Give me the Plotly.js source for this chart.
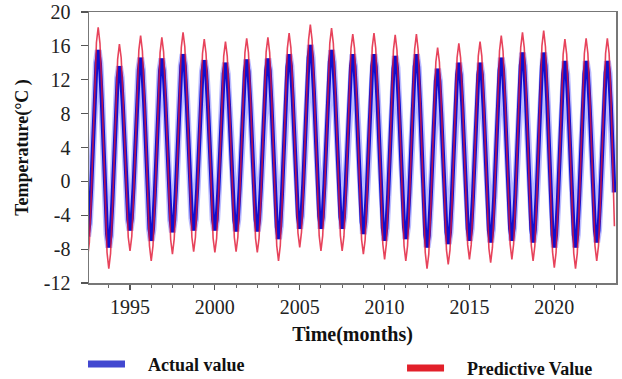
<!DOCTYPE html>
<html>
<head>
<meta charset="utf-8">
<script src="https://cdn.plot.ly/plotly-3.0.1.min.js"></script>
<style>html,body{margin:0;padding:0;background:#fff;}#chart{width:622px;height:379px;}</style>
</head>
<body>
<div id="chart"></div>
<script>
// Monthly values, 25 cycles (Jan..Dec per row)
const actualValues = [
 -6.5,-5.0,-1.0,4.5,10.0,14.0,15.5,13.9,9.7,3.9,-2.0,-6.2,
 -7.8,-6.4,-2.5,2.9,8.3,12.2,13.6,12.3,8.8,3.9,-1.0,-4.5,
 -5.8,-4.4,-0.7,4.4,9.5,13.2,14.6,13.2,9.2,3.8,-1.6,-5.6,
 -7.0,-5.6,-1.6,3.8,9.1,13.1,14.5,13.1,9.4,4.3,-0.9,-4.6,
 -6.0,-4.6,-0.8,4.5,9.8,13.6,15.0,13.6,9.8,4.6,-0.6,-4.4,
 -5.8,-4.5,-0.8,4.3,9.3,13.0,14.3,13.0,9.3,4.3,-0.8,-4.5,
 -5.8,-4.5,-0.9,4.1,9.1,12.7,14.0,12.7,9.0,4.1,-0.9,-4.6,
 -5.9,-4.5,-0.8,4.3,9.3,13.0,14.4,13.0,9.3,4.3,-0.8,-4.5,
 -5.9,-4.5,-0.8,4.3,9.4,13.1,14.5,13.1,9.2,3.9,-1.5,-5.4,
 -6.8,-5.3,-1.4,4.1,9.6,13.5,15.0,13.6,9.9,4.7,-0.5,-4.2,
 -5.6,-4.1,-0.2,5.3,10.7,14.6,16.1,14.6,10.7,5.3,-0.2,-4.1,
 -5.6,-4.2,-0.3,5.0,10.2,14.1,15.5,14.1,10.2,5.0,-0.3,-4.2,
 -5.6,-4.2,-0.5,4.7,9.9,13.6,15.0,13.6,9.7,4.4,-0.9,-4.8,
 -6.2,-4.8,-0.9,4.4,9.7,13.6,15.0,13.5,9.5,4.0,-1.5,-5.5,
 -7.0,-5.5,-1.6,3.9,9.4,13.3,14.8,13.4,9.4,4.0,-1.4,-5.4,
 -6.8,-5.3,-1.4,4.1,9.6,13.5,15.0,13.5,9.3,3.6,-2.1,-6.3,
 -7.8,-6.4,-2.5,2.8,8.0,11.9,13.3,11.9,8.1,2.9,-2.2,-6.0,
 -7.4,-6.0,-2.1,3.3,8.7,12.6,14.0,12.6,8.8,3.5,-1.8,-5.6,
 -7.0,-5.6,-1.8,3.5,8.8,12.6,14.0,12.6,8.7,3.4,-1.9,-5.8,
 -7.2,-5.7,-1.8,3.7,9.2,13.1,14.6,13.2,9.2,3.8,-1.6,-5.6,
 -7.0,-5.5,-1.5,4.1,9.7,13.7,15.2,13.7,9.6,4.0,-1.6,-5.7,
 -7.2,-5.7,-1.6,4.0,9.6,13.7,15.2,13.7,9.5,3.7,-2.1,-6.3,
 -7.8,-6.3,-2.3,3.2,8.7,12.7,14.2,12.7,8.7,3.2,-2.3,-6.3,
 -7.8,-6.3,-2.3,3.2,8.7,12.7,14.2,12.8,8.9,3.5,-1.9,-5.8,
 -7.2,-5.8,-1.9,3.5,8.9,12.8,14.2,12.8,8.9,3.6,-1.3
];
const predictedValues = [
 -9.0,-7.2,-2.2,4.6,11.4,16.4,18.2,16.3,11.1,4.0,-3.2,-8.4,
 -10.3,-8.5,-3.7,3.0,9.6,14.4,16.2,14.6,10.1,4.0,-2.1,-6.6,
 -8.2,-6.5,-1.9,4.5,10.9,15.5,17.2,15.4,10.6,3.9,-2.8,-7.6,
 -9.4,-7.6,-2.8,3.8,10.4,15.2,17.0,15.3,10.6,4.2,-2.2,-6.9,
 -8.6,-6.8,-2.1,4.5,11.1,15.8,17.6,15.9,11.1,4.7,-1.8,-6.6,
 -8.3,-6.6,-2.0,4.3,10.5,15.1,16.8,15.1,10.5,4.2,-2.1,-6.7,
 -8.4,-6.7,-2.2,4.1,10.3,14.8,16.5,14.8,10.3,4.1,-2.1,-6.6,
 -8.3,-6.6,-2.0,4.3,10.6,15.2,16.9,15.2,10.6,4.2,-2.1,-6.7,
 -8.4,-6.7,-2.1,4.3,10.7,15.3,17.0,15.2,10.4,3.8,-2.8,-7.6,
 -9.4,-7.6,-2.7,4.1,10.8,15.7,17.5,15.8,11.2,4.9,-1.5,-6.1,
 -7.8,-6.0,-1.2,5.4,11.9,16.7,18.5,16.7,11.8,5.2,-1.5,-6.4,
 -8.2,-6.4,-1.6,5.0,11.5,16.3,18.1,16.3,11.5,5.0,-1.6,-6.4,
 -8.2,-6.5,-1.8,4.6,11.0,15.7,17.4,15.7,10.9,4.4,-2.1,-6.9,
 -8.6,-6.9,-2.1,4.5,11.0,15.8,17.5,15.7,10.8,4.2,-2.5,-7.4,
 -9.2,-7.4,-2.6,4.1,10.7,15.5,17.3,15.5,10.6,3.9,-2.7,-7.6,
 -9.4,-7.6,-2.7,4.0,10.7,15.6,17.4,15.5,10.5,3.6,-3.4,-8.4,
 -10.3,-8.6,-3.8,2.8,9.3,14.1,15.8,14.1,9.4,3.0,-3.4,-8.1,
 -9.8,-8.1,-3.3,3.3,9.8,14.6,16.3,14.6,9.9,3.6,-2.8,-7.5,
 -9.2,-7.5,-2.8,3.7,10.1,14.8,16.5,14.8,10.0,3.5,-3.1,-7.9,
 -9.6,-7.8,-2.9,3.8,10.5,15.4,17.2,15.4,10.6,4.0,-2.6,-7.4,
 -9.2,-7.4,-2.5,4.2,10.9,15.8,17.6,15.8,10.9,4.1,-2.7,-7.6,
 -9.4,-7.6,-2.6,4.2,11.0,16.0,17.8,15.9,10.8,3.8,-3.2,-8.3,
 -10.2,-8.4,-3.5,3.3,10.1,15.0,16.8,15.0,10.0,3.3,-3.5,-8.5,
 -10.3,-8.5,-3.5,3.3,10.1,15.1,16.9,15.1,10.3,3.8,-2.8,-7.6,
 -9.4,-7.6,-2.8,3.8,10.3,15.1,16.9,15.1,10.3,3.7,-5.3
];
const xTickMonths = [24, 72, 120, 168, 216, 264];
const xTickLabels = ['1995', '2000', '2005', '2010', '2015', '2020'];
const yTickValues = [-12, -8, -4, 0, 4, 8, 12, 16, 20];
const yTickLabels = ['-12', '-8', '-4', '0', '4', '8', '12', '16', '20'];
const seriesNames = ['Actual value', 'Predictive Value'];

const monthsA = actualValues.map((_, i) => i);
const monthsP = predictedValues.map((_, i) => i);
const pad = '\u00a0\u00a0\u00a0\u00a0';

const traces = [
  {x: monthsA, y: actualValues, mode: 'lines', line: {color: 'rgba(120,120,255,0.5)', width: 7}, showlegend: false, hoverinfo: 'skip'},
  {x: monthsA, y: actualValues, mode: 'lines', line: {color: '#1010d0', width: 4}, showlegend: false},
  {x: monthsP, y: predictedValues, mode: 'lines', line: {color: 'rgba(225,20,50,0.8)', width: 1.6}, showlegend: false},
  {x: [null], y: [null], mode: 'lines', name: pad + seriesNames[0], line: {color: '#4248d0', width: 7}, legend: 'legend'},
  {x: [null], y: [null], mode: 'lines', name: pad + seriesNames[1], line: {color: '#e2202a', width: 7}, legend: 'legend2'}
];

const serif = 'Liberation Serif, Times New Roman, serif';
const layout = {
  width: 622, height: 379,
  margin: {l: 89, r: 6, t: 12, b: 96, autoexpand: false},
  paper_bgcolor: '#ffffff', plot_bgcolor: '#ffffff',
  font: {family: serif, color: '#1a1a1a'},
  showlegend: true,
  xaxis: {
    range: [0.8, 298.9],
    tickmode: 'array', tickvals: xTickMonths, ticktext: xTickLabels,
    ticks: 'outside', ticklen: 5, tickwidth: 1.2, tickcolor: '#555',
    minor: {tickmode: 'linear', tick0: 0, dtick: 12, ticks: 'outside', ticklen: 3, tickwidth: 1, tickcolor: '#666', showgrid: false},
    showline: true, linecolor: '#777', linewidth: 1.5, mirror: true,
    showgrid: false, zeroline: false,
    tickfont: {size: 20, family: serif, color: '#222'},
    title: {text: 'Time(months)', font: {size: 20, family: serif, weight: 'bold', color: '#111'}, standoff: 10}
  },
  yaxis: {
    range: [-12, 20],
    tickmode: 'array', tickvals: yTickValues, ticktext: yTickLabels,
    ticks: 'outside', ticklen: 7, tickwidth: 1.2, tickcolor: '#555',
    ticklabelstandoff: 6,
    showline: true, linecolor: '#777', linewidth: 1.5, mirror: true,
    showgrid: false, zeroline: false,
    tickfont: {size: 20, family: serif, color: '#222'},
    title: {text: 'Temperature(°C )', font: {size: 18, family: serif, weight: 'bold', color: '#111'}, standoff: 10}
  },
  legend: {
    orientation: 'h', x: -0.0114, y: -0.30, xanchor: 'left', yanchor: 'middle',
    font: {size: 18, family: serif, weight: 'bold', color: '#111'},
    bgcolor: 'rgba(0,0,0,0)', itemwidth: 37
  },
  legend2: {
    orientation: 'h', x: 0.594, y: -0.315, xanchor: 'left', yanchor: 'middle',
    font: {size: 18, family: serif, weight: 'bold', color: '#111'},
    bgcolor: 'rgba(0,0,0,0)', itemwidth: 37
  }
};

Plotly.newPlot('chart', traces, layout, {displayModeBar: false, staticPlot: true});
</script>
</body>
</html>
